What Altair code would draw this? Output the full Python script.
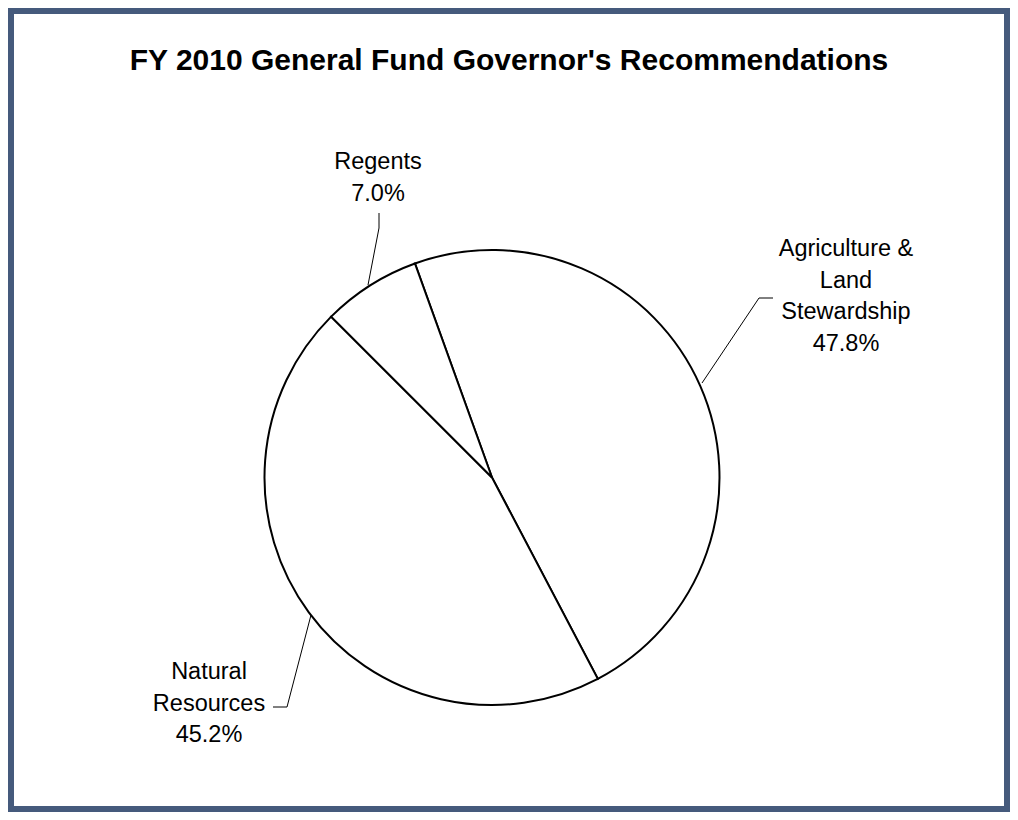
import math
import altair as alt
import pandas as pd

# ---- data ----
categories = ["Agriculture & Land Stewardship", "Natural Resources", "Regents"]
shares = [47.8, 45.2, 7.0]
label_lines = [["Agriculture &", "Land", "Stewardship"], ["Natural", "Resources"], ["Regents"]]
title_text = "FY 2010 General Fund Governor's Recommendations"

# ---- layout (pixels, chart coordinates) ----
W, H = 1002, 804
CX, CY, R = 484, 469.5, 227.5
START = math.radians(-19.8)
label_anchor = {  # centre of first line of each label
    "Agriculture & Land Stewardship": (838, 241),
    "Natural Resources": (201, 664),
    "Regents": (370, 154),
}
leaders = {
    "Agriculture & Land Stewardship": [(694, 375), (751, 290), (765, 290)],
    "Natural Resources": [(303, 607), (279, 699), (265, 699)],
    "Regents": [(360, 277), (371, 220), (371, 205)],
}

pie_df = pd.DataFrame({"category": categories, "share": shares, "order": range(len(categories))})

lab_rows = []
for c, s, lines in zip(categories, shares, label_lines):
    ax, ay = label_anchor[c]
    lab_rows.append({"category": c, "text": "\n".join(lines + [f"{s:.1f}%"]), "x": ax, "y": ay})
lab_df = pd.DataFrame(lab_rows)

lead_rows = []
for c in categories:
    for i, (px, py) in enumerate(leaders[c]):
        lead_rows.append({"category": c, "seq": i, "x": px, "y": py})
lead_df = pd.DataFrame(lead_rows)

border = alt.Chart(pd.DataFrame({"a": [0]})).mark_rect(
    fill="white", stroke="#455a7c", strokeWidth=6
).encode(x=alt.value(3), x2=alt.value(W - 3), y=alt.value(3), y2=alt.value(H - 3))

title = alt.Chart(pd.DataFrame({"t": [title_text]})).mark_text(
    font="Liberation Sans", fontSize=30, fontWeight="bold", color="black",
    align="center", baseline="middle"
).encode(text="t:N", x=alt.value(501), y=alt.value(53))

pie = alt.Chart(pie_df).mark_arc(
    radius=R, fill="white", stroke="black", strokeWidth=2
).encode(
    theta=alt.Theta("share:Q", stack=True, scale=alt.Scale(range=[START, START + 2 * math.pi])),
    order=alt.Order("order:Q"),
    x=alt.value(CX), y=alt.value(CY),
)

lines = alt.Chart(lead_df).mark_line(color="black", strokeWidth=1).encode(
    x=alt.X("x:Q", scale=None), y=alt.Y("y:Q", scale=None),
    detail="category:N", order="seq:Q",
)

labels = alt.Chart(lab_df).mark_text(
    font="Liberation Sans", fontSize=23.5, color="black", align="center",
    baseline="middle", lineBreak="\n", lineHeight=31.5
).encode(x=alt.X("x:Q", scale=None), y=alt.Y("y:Q", scale=None), text="text:N")

chart = alt.layer(border, title, pie, lines, labels).properties(
    width=W, height=H, padding=0, autosize=alt.AutoSizeParams(type="none")
).configure_view(stroke=None)

chart.save("out.html", embed_options={"renderer": "svg", "actions": False})
